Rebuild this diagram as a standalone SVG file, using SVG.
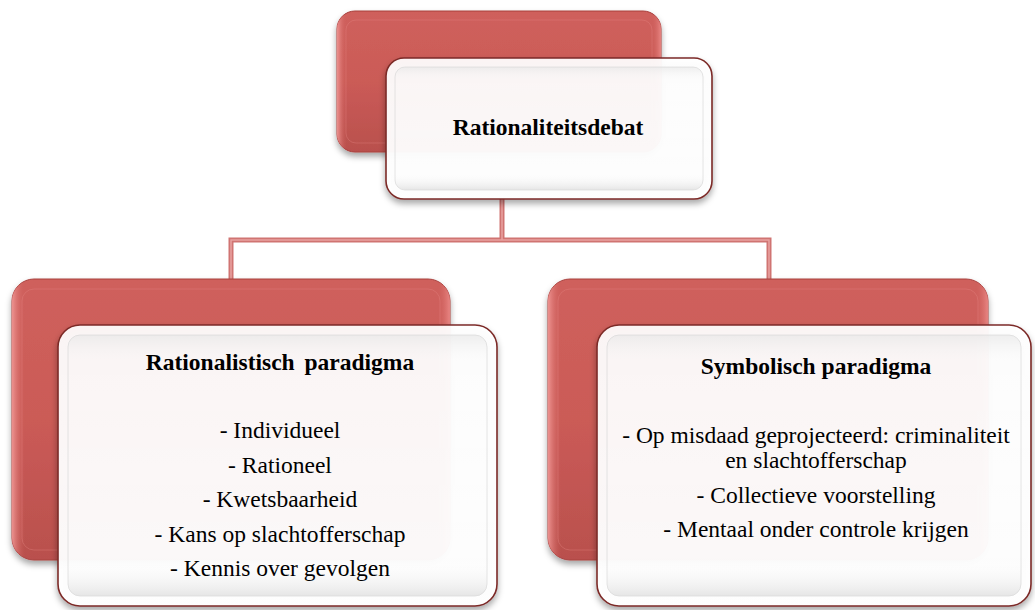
<svg xmlns="http://www.w3.org/2000/svg" width="1035" height="610" viewBox="0 0 1035 610">
<defs>
  <linearGradient id="redFill" x1="0" y1="0" x2="0" y2="1">
    <stop offset="0" stop-color="#cf605c"/>
    <stop offset="0.5" stop-color="#cb5b57"/>
    <stop offset="1" stop-color="#b9504d"/>
  </linearGradient>
  <linearGradient id="redEdge" x1="0" y1="0" x2="1" y2="0">
    <stop offset="0" stop-color="#f29a98" stop-opacity="0.9"/>
    <stop offset="0.03" stop-color="#cb5b57" stop-opacity="0"/>
    <stop offset="0.97" stop-color="#cb5b57" stop-opacity="0"/>
    <stop offset="1" stop-color="#f0908e" stop-opacity="0.8"/>
  </linearGradient>
  <linearGradient id="whiteFill" x1="0" y1="0" x2="0" y2="1">
    <stop offset="0" stop-color="#ffffff" stop-opacity="0.93"/>
    <stop offset="1" stop-color="#ffffff" stop-opacity="0.96"/>
  </linearGradient>
  <linearGradient id="whiteBevel" x1="0" y1="0" x2="0" y2="1">
    <stop offset="0" stop-color="#e4e4e4"/>
    <stop offset="0.1" stop-color="#f4f4f4" stop-opacity="0"/>
    <stop offset="0.88" stop-color="#f4f4f4" stop-opacity="0"/>
    <stop offset="1" stop-color="#d6d6d6"/>
  </linearGradient>
  <filter id="shadow" x="-10%" y="-10%" width="120%" height="130%">
    <feDropShadow dx="0" dy="4" stdDeviation="3" flood-color="#000" flood-opacity="0.35"/>
  </filter>
</defs>
<style>
  .red { fill: url(#redFill); stroke: #a8403d; stroke-width: 1; }
  .redHi { fill: url(#redEdge); stroke: none; }
  .redIn { fill: none; stroke: #e58684; stroke-opacity: 0.35; stroke-width: 1; }
  .white { fill: url(#whiteFill); stroke: #7c2a28; stroke-width: 1.6; }
  .bevel { fill: url(#whiteBevel); fill-opacity: 0.6; stroke: #d8d8d8; stroke-width: 1; stroke-opacity: 0.7; }
  text { font-family: "Liberation Serif", "DejaVu Serif", serif; fill: #000; text-anchor: middle; font-size: 23.5px; }
  .title { font-weight: bold; }
  .conn { fill: none; stroke: #d07472; stroke-width: 5; }
  .connHi { fill: none; stroke: #e9a3a1; stroke-width: 1.5; }
</style>

<g id="connectors">
  <path class="conn" d="M502,199 V240 M231,280 V240 H769 V280"/>
  <path class="connHi" d="M502,199 V240 M231,280 V240 H769 V280"/>
</g>

<g id="node-root">
  <rect class="red" x="337" y="11" width="324" height="141" rx="18" filter="url(#shadow)"/>
  <rect class="redHi" x="337" y="11" width="324" height="141" rx="18"/>
  <rect class="redIn" x="346" y="20" width="306" height="123" rx="10"/>
  <rect class="white" x="386" y="58" width="326" height="141" rx="18" filter="url(#shadow)"/>
  <rect class="bevel" x="395" y="67" width="308" height="123" rx="10"/>
  <text class="title" x="548" y="135">Rationaliteitsdebat</text>
</g>

<g id="node-rationalistisch">
  <rect class="red" x="12" y="279" width="438" height="281" rx="22" filter="url(#shadow)"/>
  <rect class="redHi" x="12" y="279" width="438" height="281" rx="22"/>
  <rect class="redIn" x="22" y="289" width="418" height="261" rx="12"/>
  <rect class="white" x="58" y="325" width="439" height="281" rx="22" filter="url(#shadow)"/>
  <rect class="bevel" x="68" y="335" width="419" height="261" rx="12"/>
  <text class="title" x="280" y="370" word-spacing="4">Rationalistisch paradigma</text>
  <text class="body" x="280" y="438">- Individueel</text>
  <text class="body" x="280" y="473">- Rationeel</text>
  <text class="body" x="280" y="507">- Kwetsbaarheid</text>
  <text class="body" x="280" y="542">- Kans op slachtofferschap</text>
  <text class="body" x="280" y="576">- Kennis over gevolgen</text>
</g>

<g id="node-symbolisch">
  <rect class="red" x="548" y="279" width="440" height="281" rx="22" filter="url(#shadow)"/>
  <rect class="redHi" x="548" y="279" width="440" height="281" rx="22"/>
  <rect class="redIn" x="558" y="289" width="420" height="261" rx="12"/>
  <rect class="white" x="597" y="325" width="434" height="281" rx="22" filter="url(#shadow)"/>
  <rect class="bevel" x="607" y="335" width="414" height="261" rx="12"/>
  <text class="title" x="816" y="374">Symbolisch paradigma</text>
  <text class="body" x="816" y="443">- Op misdaad geprojecteerd: criminaliteit</text>
  <text class="body" x="816" y="468">en slachtofferschap</text>
  <text class="body" x="816" y="503">- Collectieve voorstelling</text>
  <text class="body" x="816" y="537">- Mentaal onder controle krijgen</text>
</g>
</svg>
